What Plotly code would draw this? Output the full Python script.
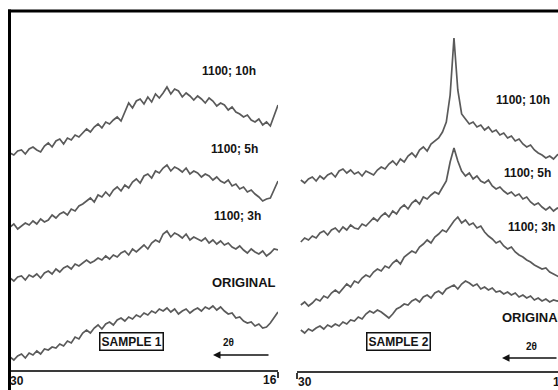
import plotly.graph_objects as go

# 2-theta grid (degrees), read from the 30 -> 16 axes
X = [30.0, 29.8, 29.6, 29.4, 29.2, 29.0, 28.8, 28.6, 28.4, 28.2,
     28.0, 27.8, 27.6, 27.4, 27.2, 27.0, 26.8, 26.6, 26.4, 26.2,
     26.0, 25.8, 25.6, 25.4, 25.2, 25.0, 24.8, 24.6, 24.4, 24.2,
     24.0, 23.8, 23.6, 23.4, 23.2, 23.0, 22.8, 22.6, 22.4, 22.2,
     22.0, 21.8, 21.6, 21.4, 21.2, 21.0, 20.8, 20.6, 20.4, 20.2,
     20.0, 19.8, 19.6, 19.4, 19.2, 19.0, 18.8, 18.6, 18.4, 18.2,
     18.0, 17.8, 17.6, 17.4, 17.2, 17.0, 16.8, 16.6, 16.4, 16.2,
     16.0]
X2 = X[1:70]

# SAMPLE 1 (stacked intensity, arbitrary units)
s1_10h = [237, 235, 239, 240, 236, 241, 243, 240, 238, 244,
          247, 243, 249, 251, 246, 252, 250, 255, 253, 257,
          261, 258, 263, 266, 262, 268, 266, 270, 273, 269,
          279, 287, 282, 289, 291, 286, 293, 288, 296, 292,
          297, 303, 296, 301, 299, 293, 297, 294, 290, 294,
          291, 287, 292, 289, 284, 287, 285, 280, 283, 278,
          276, 273, 275, 270, 268, 271, 265, 268, 264, 275,
          285]
s1_5h = [163, 166, 161, 164, 167, 165, 169, 166, 171, 168,
         170, 175, 172, 176, 178, 175, 181, 179, 184, 186,
         189, 192, 188, 195, 193, 198, 194, 200, 203, 199,
         205, 202, 208, 211, 207, 214, 216, 212, 219, 217,
         222, 225, 219, 223, 221, 218, 222, 216, 219, 217,
         213, 216, 214, 210, 213, 209, 207, 210, 204, 206,
         201, 203, 198, 200, 196, 193, 189, 191, 192, 201,
         209]
s1_3h = [112, 109, 113, 114, 110, 115, 113, 116, 112, 117,
         119, 116, 121, 118, 122, 124, 121, 126, 124, 127,
         130, 127, 129, 132, 130, 134, 131, 135, 133, 137,
         139, 135, 141, 138, 142, 145, 141, 147, 150, 148,
         156, 159, 153, 157, 155, 152, 156, 150, 153, 151,
         149, 152, 147, 150, 146, 149, 145, 147, 143, 141,
         144, 140, 137, 141, 138, 136, 139, 134, 137, 141,
         140]
s1_orig = [33, 30, 34, 36, 32, 37, 35, 39, 36, 41,
           40, 43, 42, 46, 44, 49, 47, 53, 51, 57,
           60, 57, 62, 65, 61, 66, 68, 65, 70, 72,
           69, 73, 71, 75, 73, 77, 75, 79, 77, 81,
           79, 82, 78, 81, 76, 79, 81, 77, 80, 82,
           79, 83, 81, 84, 80, 83, 79, 76, 77, 72,
           73, 69, 67, 68, 64, 66, 62, 63, 67, 72,
           78]

# SAMPLE 2
s2_10h = [210, 207, 211, 213, 209, 214, 211, 215, 217, 213,
          219, 221, 217, 220, 216, 218, 214, 219, 217, 215,
          220, 223, 221, 226, 229, 225, 231, 228, 234, 237,
          233, 240, 243, 239, 246, 249, 252, 258, 268, 295,
          352, 300, 276, 271, 266, 268, 263, 265, 260, 263,
          258, 260, 255, 257, 252, 254, 249, 251, 246, 243,
          245, 240, 237, 235, 232, 234, 231, 235, 238]
s2_5h = [148, 152, 150, 154, 152, 157, 159, 155, 160, 162,
         158, 163, 160, 165, 162, 161, 166, 164, 168, 172,
         169, 174, 177, 173, 179, 176, 182, 185, 181, 187,
         190, 186, 193, 191, 195, 198, 196, 203, 209, 228,
         242, 229, 219, 214, 217, 211, 214, 209, 207, 210,
         204, 201, 203, 199, 196, 198, 194, 196, 191, 193,
         188, 185, 187, 183, 180, 183, 179, 182, 180]
s2_3h = [85, 88, 84, 87, 91, 89, 94, 92, 97, 100,
         97, 102, 106, 103, 109, 107, 112, 115, 113, 118,
         121, 119, 124, 122, 127, 130, 126, 133, 136, 139,
         137, 143, 146, 150, 147, 153, 156, 160, 158, 164,
         169, 173, 167, 170, 165, 167, 162, 164, 158, 154,
         151, 147, 149, 144, 141, 143, 138, 135, 133, 130,
         128, 125, 123, 121, 122, 118, 116, 114, 112]
s2_orig = [60, 57, 61, 59, 62, 64, 61, 65, 63, 66,
           64, 68, 66, 70, 69, 73, 71, 76, 79, 77,
           80, 78, 75, 72, 76, 81, 83, 86, 85, 89,
           91, 88, 93, 95, 92, 97, 99, 96, 101, 103,
           105, 101, 106, 109, 107, 104, 106, 101, 103, 100,
           102, 98, 99, 96, 98, 95, 97, 93, 95, 92,
           94, 90, 92, 89, 91, 88, 90, 89, 90]

labels = ["1100; 10h", "1100; 5h", "1100; 3h", "ORIGINAL"]
panel_titles = ["SAMPLE 1", "SAMPLE 2"]
tick_labels = ["30", "16"]
axis_title = "2θ"

W, H = 558, 390
LINE = dict(color="#5a5a5a", width=1.7)
FONT = "Liberation Sans, Arial, sans-serif"


def px(x):
    return x / W


def py(y):
    return 1 - y / H


fig = go.Figure()
for ys in [s1_10h, s1_5h, s1_3h, s1_orig]:
    fig.add_trace(go.Scatter(x=X, y=ys, mode="lines", line=LINE,
                             xaxis="x", yaxis="y", hoverinfo="skip"))
for ys in [s2_10h, s2_5h, s2_3h, s2_orig]:
    fig.add_trace(go.Scatter(x=X2, y=ys, mode="lines", line=LINE,
                             xaxis="x2", yaxis="y2", hoverinfo="skip"))

ann = []


def text(x, y, s, size=12, xanchor="center", **kw):
    ann.append(dict(x=px(x), y=py(y), xref="paper", yref="paper", text=s,
                    showarrow=False, xanchor=xanchor, yanchor="middle",
                    font=dict(family=FONT, size=size, color="#141414", weight="bold"),
                    **kw))


# left panel labels
text(229, 71, labels[0])
text(234, 149, labels[1])
text(238, 216, labels[2])
text(244, 282, labels[3], size=13)
# right panel labels
text(523, 100, labels[0])
text(527, 173, labels[1])
text(531, 227, labels[2])
text(500, 317, labels[3], size=13, xanchor="left")
# sample boxes
for cx, s in [(131, panel_titles[0]), (398, panel_titles[1])]:
    text(cx, 341, s, size=12, bordercolor="#111", borderwidth=1.5,
         borderpad=1, bgcolor="white")
# 2-theta labels and arrows
text(228, 342, axis_title, size=10)
text(531, 346, axis_title, size=10)
for tipx, tailx, yy in [(213, 270, 355), (502, 562, 358)]:
    ann.append(dict(x=px(tipx), y=py(yy), xref="paper", yref="paper",
                    ax=tailx - tipx, ay=0, text="", showarrow=True,
                    arrowhead=2, arrowsize=1, arrowwidth=1.5, arrowcolor="#111"))
# axis end labels
text(17, 381, tick_labels[0], size=12)
text(270, 380, tick_labels[1], size=12)
text(305, 382, tick_labels[0], size=12)
text(551, 382, tick_labels[1], size=12, xanchor="left")

shapes = [
    dict(type="line", xref="paper", yref="paper", x0=px(8), x1=1.01,
         y0=py(11), y1=py(11), line=dict(color="black", width=3)),
    dict(type="line", xref="paper", yref="paper", x0=px(9.5), x1=px(9.5),
         y0=py(9.5), y1=-0.01, line=dict(color="black", width=3)),
]

fig.update_layout(
    width=W, height=H, margin=dict(l=0, r=0, t=0, b=0),
    paper_bgcolor="white", plot_bgcolor="white", showlegend=False,
    annotations=ann, shapes=shapes,
    xaxis=dict(domain=[px(10), px(278)], range=[30, 16], showgrid=False,
               zeroline=False, showline=True, linecolor="#3a3a3a", linewidth=1.5,
               tickvals=[16], ticks="outside", ticklen=6, tickwidth=1.5,
               tickcolor="#3a3a3a", showticklabels=False, anchor="y"),
    xaxis2=dict(domain=[px(297), 1], range=[30, 30 - 261 / (268 / 14)], showgrid=False,
                zeroline=False, showline=True, linecolor="#3a3a3a", linewidth=1.5,
                tickvals=[30], ticks="outside", ticklen=6, tickwidth=1.5,
                tickcolor="#3a3a3a", showticklabels=False, anchor="y2"),
    yaxis=dict(domain=[20 / H, 1], range=[20, 390], visible=False, anchor="x"),
    yaxis2=dict(domain=[19 / H, 1], range=[19, 390], visible=False, anchor="x2"),
)

fig.write_html("out.html", config={"displayModeBar": False},
               post_script="document.body.style.margin='0';document.body.style.overflow='hidden';")
